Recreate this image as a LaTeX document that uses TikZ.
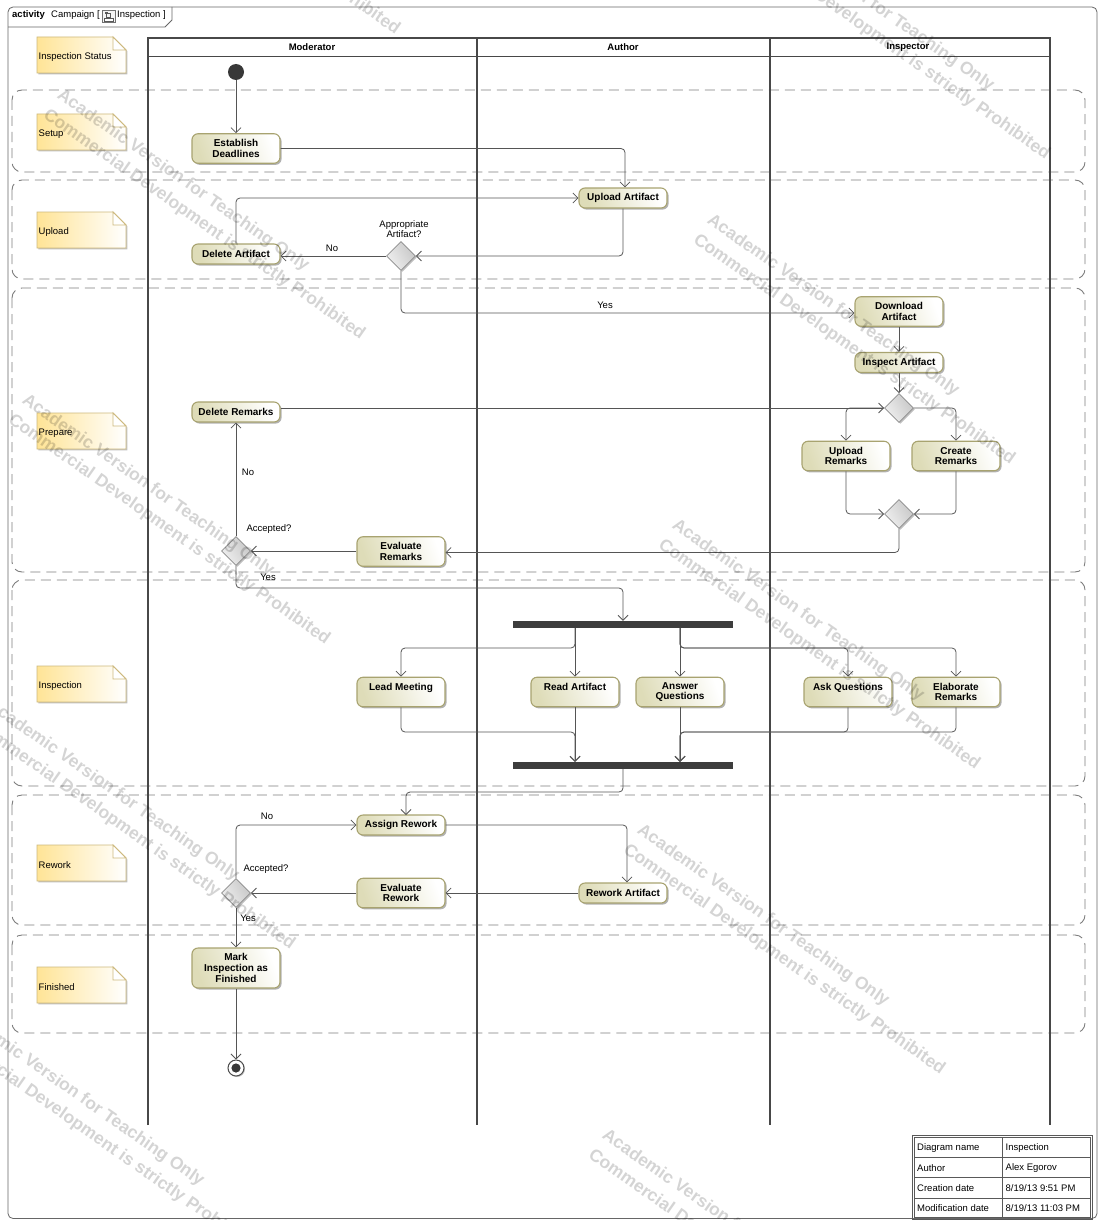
\documentclass[tikz,border=0pt]{standalone}
\usepackage{fontspec}
\setmainfont{Liberation Sans}
\usetikzlibrary{arrows.meta,shapes.geometric,shadows,calc}

\newcommand\diagact{\fontsize{10}{10.7}\selectfont\bfseries}
\newcommand\diagtxt{\fontsize{9.5}{10.5}\selectfont}
\newcommand\diagwm{\fontsize{17.5}{24}\selectfont\bfseries}

\definecolor{actfill}{RGB}{222,220,184}
\definecolor{actline}{RGB}{168,163,112}
\definecolor{notefill}{RGB}{255,228,150}
\definecolor{noteline}{RGB}{205,185,125}
\definecolor{edgegray}{RGB}{85,85,85}
\definecolor{lanegray}{RGB}{72,72,72}
\definecolor{dashgray}{RGB}{125,125,125}

\begin{document}
\begin{tikzpicture}[x=1pt,y=-1pt,
  action/.style={draw=actline, line width=1.1pt, rounded corners=6pt,
    left color=actfill, right color=white, shading angle=110,
    minimum width=88pt, minimum height=20pt, inner sep=1pt, align=center,
    font=\diagact,
    drop shadow={shadow xshift=1.6pt, shadow yshift=-1.6pt, fill=black, opacity=0.3}},
  tall/.style={minimum height=29.5pt},
  taller/.style={minimum height=40pt},
  decision/.style={diamond, draw=black!45, line width=0.8pt,
    left color=black!6, right color=black!22, shading angle=120,
    minimum width=29pt, minimum height=29pt, inner sep=0pt,
    drop shadow={shadow xshift=1.4pt, shadow yshift=-1.4pt, fill=black, opacity=0.25}},
  bar/.style={fill=black!76, minimum width=220pt, minimum height=7pt, inner sep=0pt},
  flow/.style={draw=edgegray, line width=0.8pt, rounded corners=4pt,
    -{Straight Barb[length=5pt,width=10pt,line width=0.8pt]}},
  lbl/.style={font=\diagtxt, inner sep=0pt},
  region/.style={draw=dashgray, line width=0.9pt, dash pattern=on 10pt off 6pt,
    rounded corners=10pt},
  lane/.style={draw=lanegray, line width=1.8pt},
  lanehead/.style={font=\fontsize{9.5}{10.5}\selectfont\bfseries, inner sep=0pt},
  notepath/.style={draw=noteline, line width=0.9pt, left color=notefill, right color=white,
    drop shadow={shadow xshift=1.3pt, shadow yshift=-1.3pt, fill=black, opacity=0.25}},
  notefold/.style={draw=noteline, line width=0.9pt, fill=white},
  notetext/.style={font=\diagtxt, inner sep=0pt, anchor=west},
  cell/.style={font=\diagtxt, inner sep=0pt, anchor=west},
  wmark/.style={font=\diagwm, text=black, opacity=0.17, align=left, rotate=-35, inner sep=0pt}
]
\useasboundingbox (0,0) rectangle (1098,1220);
\fill[white] (0,0) rectangle (1098,1220);

% diagram frame and its name tab
\draw[black!60, line width=0.8pt, rounded corners=5pt] (8,7) rectangle (1097,1218.5);
\draw[black!60, line width=0.8pt] (8,27) -- (165,27) -- (172,20) -- (172,7);
\node[lbl, anchor=west, font=\diagtxt\bfseries] (ttlA) at (12,15.5) {activity};
\node[lbl, anchor=west] (ttlB) at (51,15.5) {Campaign [};
\node[lbl, anchor=west] (ttlC) at (117,15.5) {Inspection ]};
% activity icon in the tab
\draw[black!55, fill=black!4, line width=0.5pt] (102.5,10) rectangle (115,22.5);
\fill[black!65] (104.5,12) rectangle (107.5,14.5);
\draw[black!65, line width=0.5pt] (106,14.5) -- (106,17.5) -- (110.5,17.5) -- (110.5,13) -- (108,13);
\draw[black!65, line width=0.5pt, fill=white] (104,18) rectangle (113,21);

% state regions
\draw[region] (12,90) rectangle (1085,172);
\draw[region] (12,180) rectangle (1085,279);
\draw[region] (12,288) rectangle (1085,572);
\draw[region] (12,580) rectangle (1085,786);
\draw[region] (12,795) rectangle (1085,925);
\draw[region] (12,935) rectangle (1085,1033);

% swimlanes
\draw[lane] (148,1125) -- (148,38) -- (1050,38) -- (1050,1125);
\draw[lane] (148,56.5) -- (1050,56.5);
\draw[lane] (477,38) -- (477,1125);
\draw[lane] (770,38) -- (770,1125);
\node[lanehead] (hMod) at (312,47) {Moderator};
\node[lanehead] (hAut) at (623,47) {Author};
\node[lanehead] (hIns) at (908,47) {Inspector};

% status notes
\foreach \nm/\ytop/\txt in {nStatus/37/Inspection Status, nSetup/114/Setup,
    nUpload/212/Upload, nPrepare/413/Prepare, nInspect/666/Inspection,
    nRework/845/Rework, nFinish/967/Finished} {
  \draw[notepath] (37,\ytop) -- (113,\ytop) -- (126,\ytop+13) -- (126,\ytop+36)
    -- (37,\ytop+36) -- cycle;
  \draw[notefold] (113,\ytop) -- (113,\ytop+13) -- (126,\ytop+13) -- cycle;
  \node[notetext] (\nm) at (38.5,\ytop+20) {\txt};
}

% activity nodes
\node[circle, fill=black!78, minimum size=16pt, inner sep=0pt] (init) at (236,72) {};
\node[action, tall] (estab) at (236,148.5) {Establish\\Deadlines};
\node[action] (upart) at (623,198) {Upload Artifact};
\node[action] (delart) at (236,254) {Delete Artifact};
\node[decision] (dec1) at (401,256) {};
\node[action, tall] (dlart) at (899,311.5) {Download\\Artifact};
\node[action] (insart) at (899,362.5) {Inspect Artifact};
\node[decision] (dec2) at (899,408) {};
\node[action] (delrem) at (236,412) {Delete Remarks};
\node[action, tall] (uprem) at (846,456) {Upload\\Remarks};
\node[action, tall] (crrem) at (956,456) {Create\\Remarks};
\node[decision] (dec3) at (899,514) {};
\node[action, tall] (evrem) at (401,551.5) {Evaluate\\Remarks};
\node[decision] (dec4) at (236,551) {};
\node[bar] (fork) at (623,624.5) {};
\node[action, tall] (lead) at (401,692) {Lead Meeting\\\mbox{}};
\node[action, tall] (read) at (575,692) {Read Artifact\\\mbox{}};
\node[action, tall] (answ) at (680,692) {Answer\\Questions};
\node[action, tall] (ask) at (848,692) {Ask Questions\\\mbox{}};
\node[action, tall] (elab) at (956,692) {Elaborate\\Remarks};
\node[bar] (join) at (623,765.5) {};
\node[action] (asgn) at (401,825) {Assign Rework};
\node[action] (rwart) at (623,893) {Rework Artifact};
\node[action, tall] (evrw) at (401,893) {Evaluate\\Rework};
\node[decision] (dec5) at (236,893) {};
\node[action, taller] (mark) at (236,968) {Mark\\Inspection as\\Finished};
\node[circle, draw=black!70, line width=1pt, fill=white, minimum size=16pt, inner sep=0pt,
  drop shadow={shadow xshift=1pt, shadow yshift=-1pt, fill=black, opacity=0.25},
  path picture={\fill[black!78] (path picture bounding box.center) circle (4.6pt);}]
  (final) at (236,1068) {};

% guard and decision labels
\node[lbl, align=center] (qApp) at (404,229) {Appropriate\\Artifact?};
\node[lbl] (lNo1) at (332,248) {No};
\node[lbl] (lYes1) at (605,305) {Yes};
\node[lbl] (qAcc1) at (269,529) {Accepted?};
\node[lbl] (lNo2) at (248,472) {No};
\node[lbl] (lYes2) at (268,577) {Yes};
\node[lbl] (qAcc2) at (266,869) {Accepted?};
\node[lbl] (lNo3) at (267,816) {No};
\node[lbl] (lYes3) at (248,918) {Yes};

% control flows
\coordinate (yesturn) at (623,588);
\coordinate (fsplit) at (0,648);
\coordinate (jmerge) at (0,732);
\coordinate (jturn) at (0,792);
\coordinate (asgnin) at (406,815);

\draw[flow] (init) -- (estab);
\draw[flow] (estab.east) -| ([xshift=2pt]upart.north);
\draw[flow] (upart.south) |- (dec1.east);
\draw[flow] (dec1.west) -- (dec1.west -| delart.east);
\draw[flow] (delart.north) |- (upart.west);
\draw[flow] (dec1.south) |- ([yshift=-1.5pt]dlart.west);
\draw[flow] (dlart) -- (insart);
\draw[flow] (insart) -- (dec2);
\draw[flow] (delrem.east |- dec2.west) -- (dec2.west);
\draw[flow] (dec2.west) -| (uprem.north);
\draw[flow] (dec2.east) -| (crrem.north);
\draw[flow] (uprem.south) |- (dec3.west);
\draw[flow] (crrem.south) |- (dec3.east);
\draw[flow] (dec3.south) |- ([yshift=-1pt]evrem.east);
\draw[flow] (evrem.west |- dec4.east) -- (dec4.east);
\draw[flow] (dec4.north) -- (delrem.south);
\draw[flow] (dec4.south) |- (yesturn) -- (fork.north);
\draw[flow] (fork.south -| read.north) -- (read.north);
\draw[flow] (fork.south -| read.north) |- (fsplit -| lead) -- (lead.north);
\draw[flow] (fork.south -| answ.north) -- (answ.north);
\draw[flow] (fork.south -| answ.north) |- (fsplit -| ask) -- (ask.north);
\draw[flow] (fork.south -| answ.north) |- (fsplit -| elab) -- (elab.north);
\draw[flow] (read.south) -- (read.south |- join.north);
\draw[flow] (lead.south) |- (jmerge -| read) -- (read.south |- join.north);
\draw[flow] (answ.south) -- (answ.south |- join.north);
\draw[flow] (ask.south) |- (jmerge -| answ) -- (answ.south |- join.north);
\draw[flow] (elab.south) |- (jmerge -| answ) -- (answ.south |- join.north);
\draw[flow] (join.south) |- (jturn -| asgnin) -- (asgnin);
\draw[flow] (asgn.east) -| ([xshift=4pt]rwart.north);
\draw[flow] (rwart.west) -- (evrw.east);
\draw[flow] (evrw.west) -- (dec5.east);
\draw[flow] (dec5.north) |- (asgn.west);
\draw[flow] (dec5.south) -- (mark.north);
\draw[flow] (mark.south) -- (final.north);

% diagram information table
\draw[black!65, line width=0.8pt] (912.5,1135.5) rectangle (1092,1219);
\draw[black!65, line width=0.8pt] (914.5,1137.5) rectangle (1090,1217);
\draw[black!65, line width=0.8pt] (1002,1137.5) -- (1002,1217);
\foreach \yy in {1157,1177.5,1198} \draw[black!65, line width=0.8pt] (914.5,\yy) -- (1090,\yy);
\node[cell] (tk1) at (917,1148) {Diagram name};
\node[cell] (tv1) at (1005.5,1148) {Inspection};
\node[cell] (tk2) at (917,1168) {Author};
\node[cell] (tv2) at (1005.5,1168) {Alex Egorov};
\node[cell] (tk3) at (917,1188.5) {Creation date};
\node[cell] (tv3) at (1005.5,1188.5) {8/19/13 9:51 PM};
\node[cell] (tk4) at (917,1208.5) {Modification date};
\node[cell] (tv4) at (1005.5,1208.5) {8/19/13 11:03 PM};

% licence watermark
\begin{scope}
\clip (0,0) rectangle (1098,1220);
\foreach \cx/\cy [count=\i] in {246/-90, 896/35, 211/215, 861/340, 176/520, 826/645,
    141/825, 791/950, 106/1130, 756/1255} {
  \node[wmark] (wm\i) at (\cx,\cy)
    {Academic Version for Teaching Only\\Commercial Development is strictly Prohibited};
}
\end{scope}
\end{tikzpicture}
\end{document}
